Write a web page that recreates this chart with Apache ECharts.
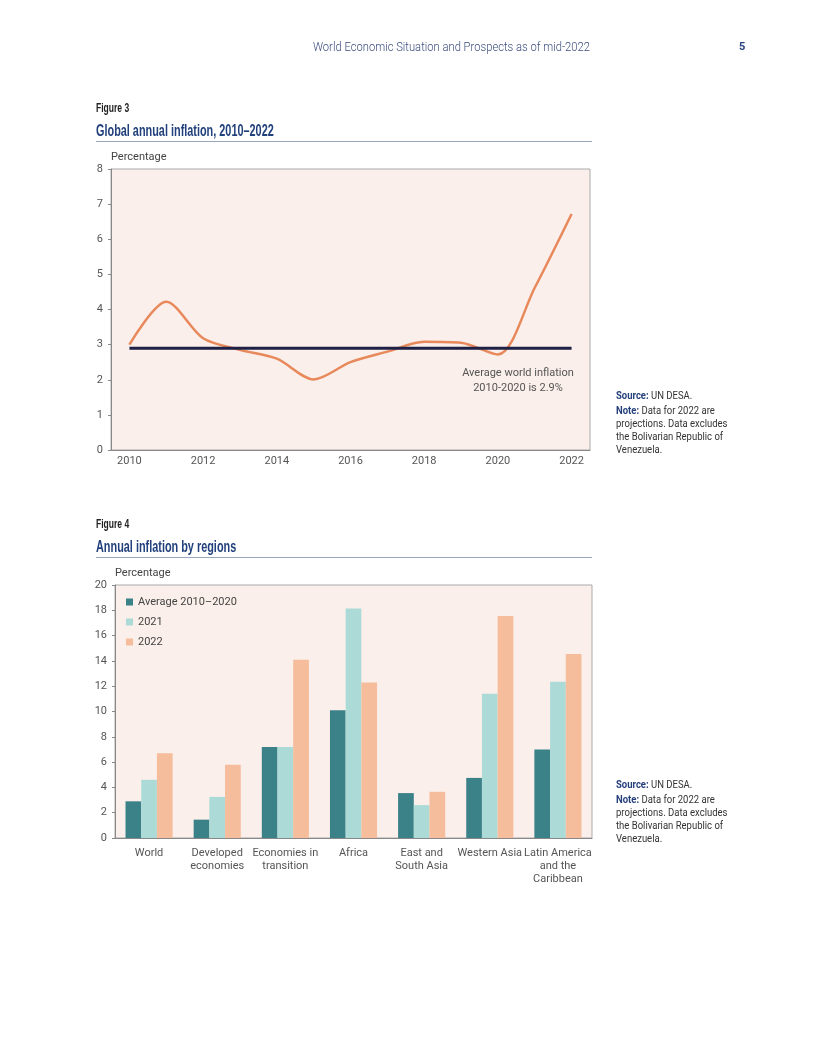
<!DOCTYPE html>
<html><head><meta charset="utf-8">
<script src="https://cdn.jsdelivr.net/npm/echarts@6/dist/echarts.min.js"></script>
<style>html,body{margin:0;padding:0;background:#fff}#c{width:816px;height:1056px}</style>
</head><body><div id="c"></div>
<script>
var years = ['2010','2011','2012','2013','2014','2015','2016','2017','2018','2019','2020','2021','2022'];
var inflation = [3.0, 4.22, 3.18, 2.85, 2.6, 2.01, 2.5, 2.8, 3.08, 3.05, 2.72, 4.62, 6.72];
var averageValue = 2.9;
var regions = ['World','Developed\neconomies','Economies in\ntransition','Africa','East and\nSouth Asia','Western Asia','Latin America\nand the\nCaribbean'];
var avg2010_2020 = [2.9, 1.45, 7.2, 10.1, 3.55, 4.75, 7.0];
var v2021 = [4.6, 3.25, 7.2, 18.15, 2.6, 11.4, 12.35];
var v2022 = [6.7, 5.8, 14.1, 12.3, 3.65, 17.55, 14.55];
var seriesNames = ['Average 2010\u20132020','2021','2022'];

var avgLine = years.map(function(){return averageValue;});
var chart = echarts.init(document.getElementById('c'), null, {renderer:'canvas'});
var axisTxt = {color:'#555', fontSize:11, fontFamily:'Roboto'};
var titleFont = 'bold 16px "Liberation Sans"';
var figFont = 'bold 12px "Liberation Sans"';
function noteText(y){
  return {type:'text', x:616, y:y, scaleX:0.95, style:{
    text:'{b|Source:} UN DESA.\n{s|}\n{b|Note:} Data for 2022 are\nprojections. Data excludes\nthe Bolivarian Republic of\nVenezuela.',
    font:'10px Roboto', fill:'#333', lineHeight:13,
    rich:{b:{fontWeight:'bold', fill:'#243f7a', fontSize:10, fontFamily:'Roboto'}, s:{lineHeight:2, fontSize:2}}
  }};
}
chart.setOption({
  animation:false,
  grid:[
    {left:111, top:169, width:479, height:281, show:true, backgroundColor:'#faefea', borderColor:'#aaa', borderWidth:1},
    {left:115, top:585, width:477, height:253, show:true, backgroundColor:'#faefea', borderColor:'#aaa', borderWidth:1}
  ],
  xAxis:[
    {type:'category', gridIndex:0, data:years, boundaryGap:true,
     axisLine:{lineStyle:{color:'#888'}}, axisTick:{interval:0, length:4, lineStyle:{color:'#888'}},
     axisLabel:Object.assign({interval:1, margin:6}, axisTxt)},
    {type:'category', gridIndex:1, data:regions,
     axisLine:{lineStyle:{color:'#888'}}, axisTick:{interval:0, length:5, lineStyle:{color:'#888'}},
     axisLabel:Object.assign({interval:0, margin:9, lineHeight:13}, axisTxt)}
  ],
  yAxis:[
    {type:'value', gridIndex:0, min:0, max:8, interval:1, splitLine:{show:false},
     axisLine:{show:true, lineStyle:{color:'#888'}}, axisTick:{show:true, length:3, lineStyle:{color:'#888'}},
     axisLabel:Object.assign({margin:8}, axisTxt),
     name:'Percentage', nameLocation:'end', nameGap:6, nameTextStyle:{color:'#444', fontSize:11, fontFamily:'Roboto', align:'left'}},
    {type:'value', gridIndex:1, min:0, max:20, interval:2, splitLine:{show:false},
     axisLine:{show:true, lineStyle:{color:'#888'}}, axisTick:{show:true, length:3, lineStyle:{color:'#888'}},
     axisLabel:Object.assign({margin:8}, axisTxt),
     name:'Percentage', nameLocation:'end', nameGap:6, nameTextStyle:{color:'#444', fontSize:11, fontFamily:'Roboto', align:'left'}}
  ],
  legend:{data:seriesNames, orient:'vertical', left:121, top:591, itemWidth:7, itemHeight:7, itemGap:8, icon:'rect',
    textStyle:{color:'#444', fontSize:11, fontFamily:'Roboto', lineHeight:12}},
  series:[
    {type:'line', xAxisIndex:0, yAxisIndex:0, data:inflation, smooth:0.3, showSymbol:false, symbol:'none',
     lineStyle:{color:'#e8895b', width:2.5}, z:2},
    {type:'line', xAxisIndex:0, yAxisIndex:0, data:avgLine, showSymbol:false, symbol:'none',
     lineStyle:{color:'#1e2046', width:3}, z:3},
    {type:'bar', name:seriesNames[0], xAxisIndex:1, yAxisIndex:1, data:avg2010_2020, barWidth:15.7, barGap:'0%', itemStyle:{color:'#3a8188'}},
    {type:'bar', name:seriesNames[1], xAxisIndex:1, yAxisIndex:1, data:v2021, barWidth:15.7, barGap:'0%', itemStyle:{color:'#acdbd7'}},
    {type:'bar', name:seriesNames[2], xAxisIndex:1, yAxisIndex:1, data:v2022, barWidth:15.7, barGap:'0%', itemStyle:{color:'#f5bd9b'}}
  ],
  graphic:[
    {type:'text', x:590, y:42, scaleX:0.935, style:{text:'World Economic Situation and Prospects as of mid-2022', font:'300 12px Roboto', fill:'#3c4d7e', textAlign:'right'}},
    {type:'text', x:739, y:42, style:{text:'5', font:'bold 11px Roboto', fill:'#243f7a'}},
    {type:'text', x:96, y:103, scaleX:0.71, style:{text:'Figure 3', font:figFont, fill:'#222'}},
    {type:'text', x:96, y:124, scaleX:0.68, style:{text:'Global annual inflation, 2010\u20132022', font:titleFont, fill:'#22407c'}},
    {type:'rect', shape:{x:96, y:141, width:496, height:1}, style:{fill:'#9aa6bd'}},
    {type:'text', x:96, y:519, scaleX:0.71, style:{text:'Figure 4', font:figFont, fill:'#222'}},
    {type:'text', x:96, y:540, scaleX:0.68, style:{text:'Annual inflation by regions', font:titleFont, fill:'#22407c'}},
    {type:'rect', shape:{x:96, y:557, width:496, height:1}, style:{fill:'#9aa6bd'}},
    {type:'text', x:518, y:366, style:{text:'Average world inflation\n2010-2020 is 2.9%', font:'11px Roboto', fill:'#555', textAlign:'center', lineHeight:15}},
    noteText(390),
    noteText(779)
  ]
});
</script></body></html>
